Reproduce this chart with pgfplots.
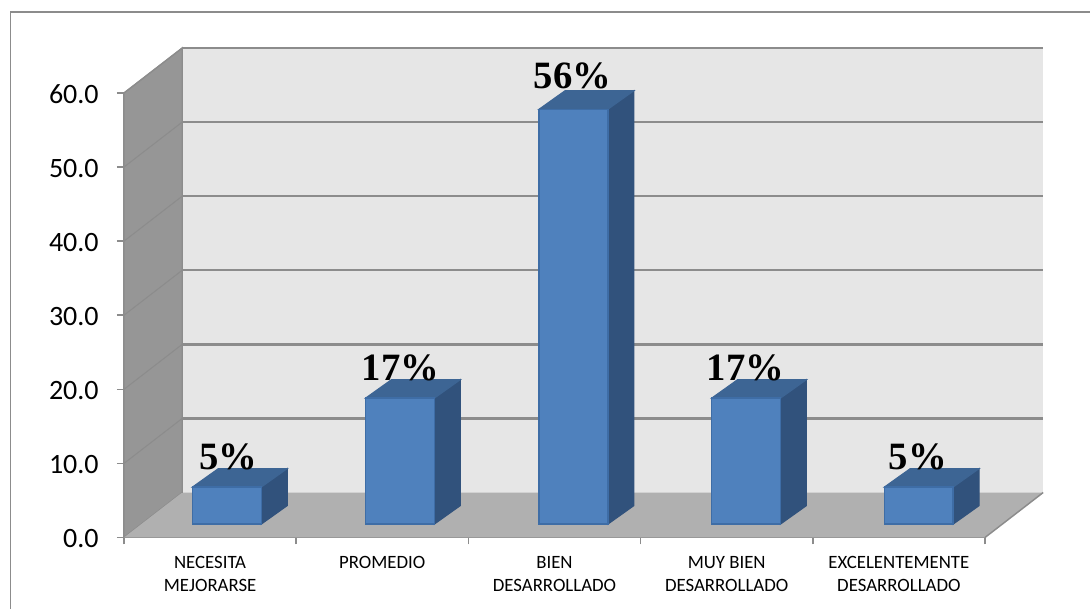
\documentclass[border=0pt]{standalone}
\usepackage{fontspec}
\setmainfont{Carlito}
\newfontfamily\labelfont{Liberation Serif}
\usepackage{pgfplots}
\pgfplotsset{compat=1.18}
\definecolor{framegray}{HTML}{8C8C8C}
\definecolor{wallback}{HTML}{E6E6E6}
\definecolor{wallside}{HTML}{969696}
\definecolor{floorgray}{HTML}{B0B0B0}
\definecolor{barfront}{HTML}{4F81BD}
\definecolor{bartop}{HTML}{3D6594}
\definecolor{barside}{HTML}{31527C}
\definecolor{baredge}{HTML}{3E6DA6}
% depth of the chart box in axis units
\def\dx{0.338}
\def\dy{6.07}
% one column: #1 centre on the category axis, #2 value
\newcommand{\column}[2]{%
  \pgfmathsetmacro\xl{#1-0.2}%
  \pgfmathsetmacro\xr{#1+0.2}%
  \pgfmathsetmacro\xL{#1-0.2+0.151}%
  \pgfmathsetmacro\xR{#1+0.2+0.151}%
  \pgfmathsetmacro\yb{1.8}%
  \pgfmathsetmacro\yB{1.8+2.5}%
  \pgfmathsetmacro\yt{1.8+#2}%
  \pgfmathsetmacro\yT{1.8+#2+2.5}%
  \addplot[draw=barside, fill=barside, line width=0.8pt, forget plot]
    coordinates {(\xr,\yb) (\xR,\yB) (\xR,\yT) (\xr,\yt)} -- cycle;
  \addplot[draw=bartop, fill=bartop, line width=0.8pt, forget plot]
    coordinates {(\xl,\yt) (\xr,\yt) (\xR,\yT) (\xL,\yT)} -- cycle;
  \addplot[draw=baredge, fill=barfront, line width=1.1pt, forget plot]
    coordinates {(\xl,\yb) (\xr,\yb) (\xr,\yt) (\xl,\yt)} -- cycle;
}
\begin{document}
\begin{tikzpicture}[x=0.75pt,y=0.75pt]
\useasboundingbox (-124,-71.5) rectangle (966,537.5);
\begin{axis}[
  at={(0,0)}, anchor=south west,
  scale only axis,
  width=645.75pt, height=333.4pt,
  xmin=0, xmax=5, ymin=0, ymax=60,
  clip=false,
  axis x line*=bottom, axis y line*=left,
  axis line style={draw=framegray, line width=1.3pt, -},
  tick align=outside,
  major tick length=5.25pt, minor tick length=5.25pt,
  tick style={draw=framegray, line width=1.1pt},
  major x tick style={draw=none},
  xtick={0.5,1.5,2.5,3.5,4.5},
  minor xtick={0,1,2,3,4,5},
  xticklabels={{NECESITA\\MEJORARSE},PROMEDIO,{BIEN\\DESARROLLADO},{MUY BIEN\\DESARROLLADO},{EXCELENTEMENTE\\DESARROLLADO}},
  xticklabel style={font=\fontsize{14.1}{17.2}\selectfont, align=center, anchor=north, yshift=-5.4pt},
  ytick={0,10,20,30,40,50,60},
  yticklabel style={font=\fontsize{21}{24}\selectfont, /pgf/number format/fixed, /pgf/number format/fixed zerofill, /pgf/number format/precision=1, /pgf/number format/assume math mode=true, xshift=-10.2pt, yshift=-0.75pt},
]
% side wall, floor and back wall of the box
\addplot[draw=framegray, fill=wallside, line width=1pt, forget plot]
  coordinates {(0,0) (\dx,\dy) (\dx,60+\dy) (0,60)} -- cycle;
\addplot[draw=none, fill=wallback, forget plot]
  coordinates {(\dx,\dy) (5+\dx,\dy) (5+\dx,60+\dy) (\dx,60+\dy)} -- cycle;
\addplot[draw=none, fill=floorgray, forget plot]
  coordinates {(0,0) (5,0) (5+\dx,\dy) (\dx,\dy)} -- cycle;
\draw[framegray, line width=1.1pt] (axis cs:5,0) -- (axis cs:5+\dx,\dy);
% gridlines across both walls
\pgfplotsinvokeforeach{10,20,30,40,50,60}{
  \draw[framegray, line width=0.8pt] (axis cs:0,#1) -- (axis cs:\dx,#1+\dy);
  \draw[framegray, line width=1.8pt] (axis cs:\dx,#1+\dy) -- (axis cs:5+\dx,#1+\dy);
}
\draw[framegray, line width=1pt] (axis cs:\dx,\dy) -- (axis cs:\dx,60+\dy);
% columns
\column{0.597}{5}
\column{1.602}{17}
\column{2.61}{56}
\column{3.612}{17}
\column{4.615}{5}
% value labels
\node[font=\labelfont\bfseries\fontsize{29}{30}\selectfont, anchor=base] at (axis cs:0.605,9.2) {5\%};
\node[font=\labelfont\bfseries\fontsize{29}{30}\selectfont, anchor=base] at (axis cs:1.605,21.2) {17\%};
\node[font=\labelfont\bfseries\fontsize{29}{30}\selectfont, anchor=base] at (axis cs:2.604,60.6) {56\%};
\node[font=\labelfont\bfseries\fontsize{29}{30}\selectfont, anchor=base] at (axis cs:3.61,21.2) {17\%};
\node[font=\labelfont\bfseries\fontsize{29}{30}\selectfont, anchor=base] at (axis cs:4.61,9.2) {5\%};
\end{axis}
% outer frame, open towards the right and bottom page edges
\draw[framegray, line width=1.3pt] (-113.5,-71.5) -- (-113.5,525.5) -- (966,525.5);
\end{tikzpicture}
\end{document}
